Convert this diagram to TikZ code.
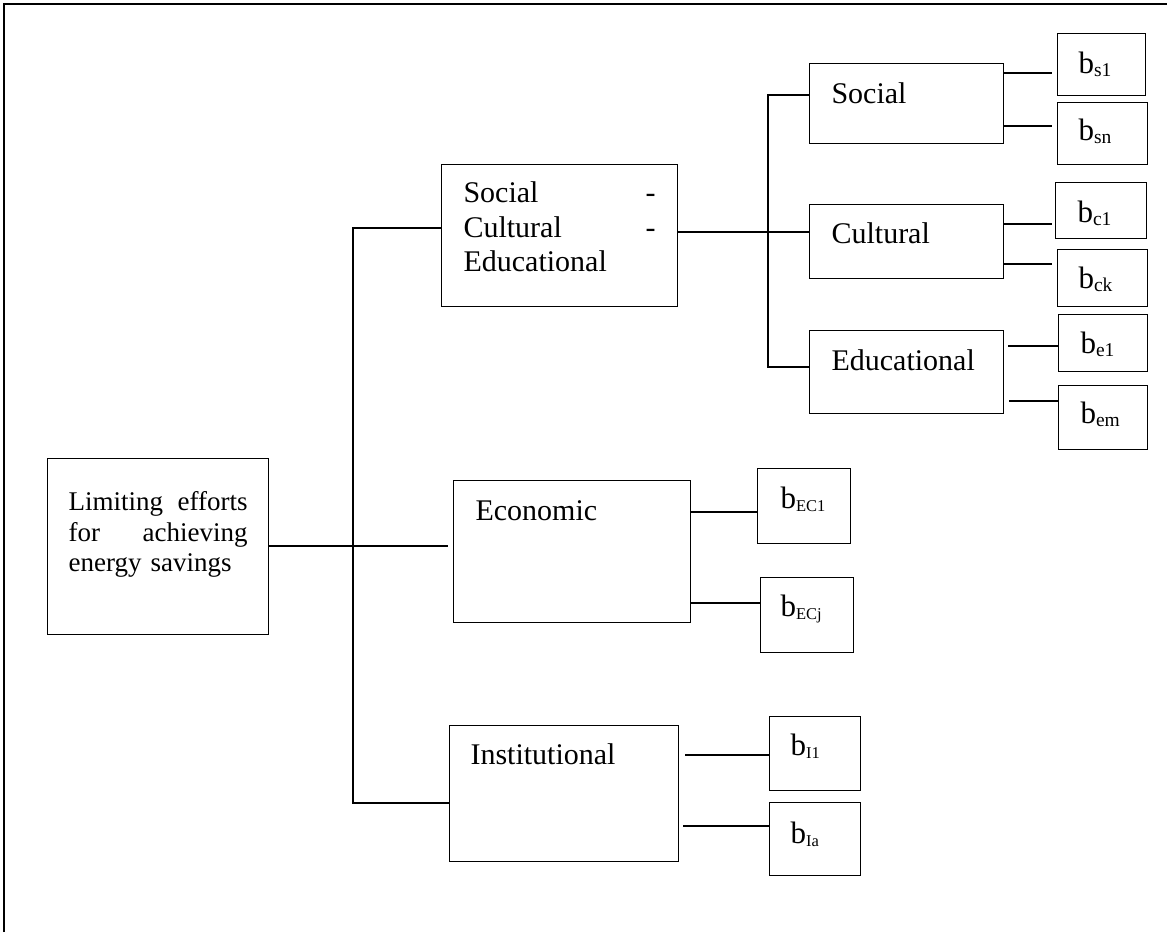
\documentclass[tikz,border=0pt]{standalone}
\usepackage{fontspec}
\setmainfont{Liberation Serif}
\newcommand\leafb[2][19.5]{\fontsize{31}{32}\selectfont b\raisebox{-2.5pt}{\fontsize{#1}{#1}\selectfont #2}}
\begin{document}
\begin{tikzpicture}[x=1pt,y=-1pt,
  bx/.style={draw, line width=1.1pt, anchor=north west, inner ysep=0pt, align=left},
  big/.style={font=\fontsize{30}{34.5}\selectfont},
  conn/.style={line width=1.1pt}]
\useasboundingbox (0,0) rectangle (1167,932);
% frame
\draw[line width=1.3pt] (4,932) -- (4,4) -- (1167,4);

% root
\node[bx, font=\fontsize{27}{30.5}\selectfont, inner xsep=21pt, text width=179pt, text height=52pt, text depth=124pt] (root) at (47,458)
  {Limiting\hfill efforts\\for\hfill achieving\\energy savings};

% level 1
\node[bx, big, inner xsep=22pt, text width=192pt, text height=38pt, text depth=104pt] (sce) at (441,164)
  {Social\hfill -\\Cultural\hfill -\\Educational};
\node[bx, big, inner xsep=22pt, text width=193pt, text height=40pt, text depth=102pt] (econ) at (453,480) {Economic};
\node[bx, big, inner xsep=21pt, text width=187pt, text height=39pt, text depth=97pt] (inst) at (449,725) {Institutional};

% level 2
\node[bx, big, inner xsep=22pt, text width=150pt, text height=40pt, text depth=40pt] (soc) at (809,63) {Social};
\node[bx, big, inner xsep=22pt, text width=150pt, text height=39pt, text depth=35pt] (cul) at (809,204) {Cultural};
\node[bx, big, inner xsep=22pt, text width=150pt, text height=40pt, text depth=43pt] (edu) at (809,330) {Educational};

% leaves
\node[bx, inner xsep=21pt, text width=46pt, text height=40pt, text depth=22pt] (bs1) at (1057,33) {\leafb{s1}};
\node[bx, inner xsep=21pt, text width=48pt, text height=38pt, text depth=24pt] (bsn) at (1057,102) {\leafb{sn}};
\node[bx, inner xsep=22pt, text width=47pt, text height=40pt, text depth=16pt] (bc1) at (1055,182) {\leafb{c1}};
\node[bx, inner xsep=21pt, text width=48pt, text height=39pt, text depth=18pt] (bck) at (1057,249) {\leafb{ck}};
\node[bx, inner xsep=22pt, text width=45pt, text height=39pt, text depth=18pt] (be1) at (1058,314) {\leafb{e1}};
\node[bx, inner xsep=22pt, text width=45pt, text height=38pt, text depth=26pt] (bem) at (1058,385) {\leafb{em}};
\node[bx, inner xsep=23pt, text width=47pt, text height=40pt, text depth=35pt] (bec1) at (757,468) {\leafb[16.5]{EC1}};
\node[bx, inner xsep=20pt, text width=53pt, text height=39pt, text depth=36pt] (becj) at (760,577) {\leafb[16.5]{ECj}};
\node[bx, inner xsep=21pt, text width=49pt, text height=39pt, text depth=35pt] (bi1) at (769,716) {\leafb[16.5]{I1}};
\node[bx, inner xsep=21pt, text width=49pt, text height=41pt, text depth=32pt] (bia) at (769,802) {\leafb[16.5]{Ia}};

% connector points
\coordinate (ecin) at (448,546);
\coordinate (t1) at (353,228);
\coordinate (t3) at (353,803);
\coordinate (s1) at (768,95);
\coordinate (s2) at (768,232);
\coordinate (s3) at (768,367);
\coordinate (a1) at (1052,73);
\coordinate (a2) at (1052,126);
\coordinate (a3) at (1052,224);
\coordinate (a4) at (1052,264);
\coordinate (a5s) at (1008,346);
\coordinate (a6s) at (1009,401);
\coordinate (c1) at (0,512);
\coordinate (c2) at (0,603);
\coordinate (i1s) at (685,755);
\coordinate (i2s) at (683,826);

% main trunk
\draw[conn] (root.east |- ecin) -- (ecin);
\draw[conn] (t1 -| sce.west) -- (t1) -- (t3) -- (t3 -| inst.west);
% second trunk
\draw[conn] (s2 -| sce.east) -- (s2 -| cul.west);
\draw[conn] (s1 -| soc.west) -- (s1) -- (s3) -- (s3 -| edu.west);
% leaves
\draw[conn] (a1 -| soc.east) -- (a1);
\draw[conn] (a2 -| soc.east) -- (a2);
\draw[conn] (a3 -| cul.east) -- (a3);
\draw[conn] (a4 -| cul.east) -- (a4);
\draw[conn] (a5s) -- (a5s -| be1.west);
\draw[conn] (a6s) -- (a6s -| bem.west);
\draw[conn] (c1 -| econ.east) -- (c1 -| bec1.west);
\draw[conn] (c2 -| econ.east) -- (c2 -| becj.west);
\draw[conn] (i1s) -- (i1s -| bi1.west);
\draw[conn] (i2s) -- (i2s -| bia.west);
\end{tikzpicture}
\end{document}
